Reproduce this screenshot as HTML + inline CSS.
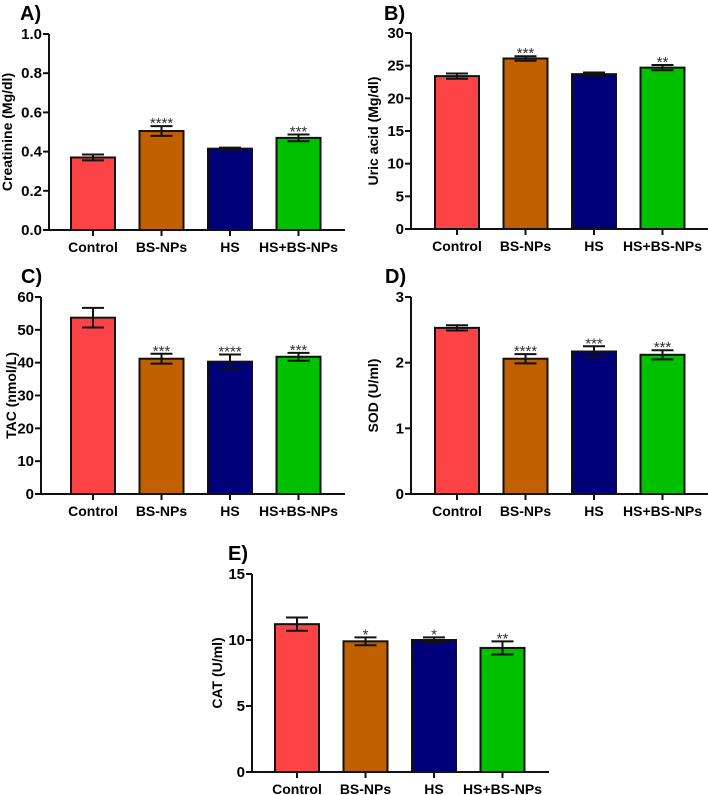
<!DOCTYPE html>
<html><head><meta charset="utf-8">
<style>
html,body{margin:0;padding:0;background:#fff;}
svg{display:block;font-family:"Liberation Sans",Arial,sans-serif;font-weight:bold;}
</style></head>
<body>
<svg id="fig" width="708" height="795" viewBox="0 0 708 795"></svg>
<script>
const categories = ["Control","BS-NPs","HS","HS+BS-NPs"];
const colors = ["#fc4446","#c06000","#00007a","#00c000"];
const creatinineValues = [0.37,0.505,0.415,0.47];
const creatinineErrors = [0.015,0.025,0.005,0.017];
const creatinineStars = ["","****","","***"];
const creatinineTicks = [0,0.2,0.4,0.6,0.8,1.0];
const uricValues = [23.4,26.1,23.7,24.7];
const uricErrors = [0.4,0.35,0.25,0.4];
const uricStars = ["","***","","**"];
const uricTicks = [0,5,10,15,20,25,30];
const tacValues = [53.7,41.2,40.3,41.8];
const tacErrors = [3.0,1.5,2.2,1.2];
const tacStars = ["","***","****","***"];
const tacTicks = [0,10,20,30,40,50,60];
const sodValues = [2.53,2.06,2.17,2.12];
const sodErrors = [0.04,0.07,0.08,0.07];
const sodStars = ["","****","***","***"];
const sodTicks = [0,1,2,3];
const catValues = [11.2,9.9,10.0,9.4];
const catErrors = [0.5,0.3,0.2,0.5];
const catStars = ["","*","*","**"];
const catTicks = [0,5,10,15];

const NS="http://www.w3.org/2000/svg";
const svg=document.getElementById('fig');
function mk(tag,attrs,parent,text){
  const e=document.createElementNS(NS,tag);
  for(const k in attrs)e.setAttribute(k,attrs[k]);
  if(text!==undefined)e.textContent=text;
  (parent||svg).appendChild(e);return e;
}
function panel(cfg){
  const g=mk('g',{});
  
  
  const ax=cfg.ax, top=cfg.top, bot=cfg.bot, bx=cfg.bx, xEnd=bx+274;
  const max=cfg.ticks[cfg.ticks.length-1];
  const y=v=>bot-(v/max)*(bot-top);
  const barX=i=>bx+i*68.5;
  const bw=44;
  const lab=mk('text',{x:cfg.lx,y:cfg.ly,'font-size':20},g,cfg.label);
  
  
  cfg.values.forEach((v,i)=>{
    const x=barX(i);
    const r=mk('rect',{x:x,y:y(v),width:bw,height:bot-y(v),fill:colors[i],stroke:'#111','stroke-width':2},g);
    
    
    const cx=x+bw/2,e=cfg.errors[i];
    const eb=mk('path',{d:`M${cx} ${y(v-e)}V${y(v+e)}M${cx-11} ${y(v+e)}H${cx+11}M${cx-11} ${y(v-e)}H${cx+11}`,stroke:'#111','stroke-width':2,fill:'none'},g);
    
    
    if(cfg.stars[i]){
      const s=mk('text',{x:cx,y:y(v+e)+2,'text-anchor':'middle','font-size':15,'font-weight':'normal',fill:'#333'},g,cfg.stars[i]);
      
      
    }
    const xl=mk('text',{x:cx,y:bot+22,'text-anchor':'middle','font-size':14},g,categories[i]);
    
    
    mk('line',{x1:cx,x2:cx,y1:bot,y2:bot+6,stroke:'#111','stroke-width':2},g);
  });
  const axes=mk('path',{d:`M${ax} ${top}V${bot}H${xEnd}`,stroke:'#111','stroke-width':2,fill:'none'},g);
  
  
  cfg.ticks.forEach(t=>{
    mk('line',{x1:ax-6,x2:ax,y1:y(t),y2:y(t),stroke:'#111','stroke-width':2},g);
    const tl=mk('text',{x:ax-7,y:y(t)+5,'text-anchor':'end','font-size':15},g,cfg.fmt?t.toFixed(1):String(t));
    
    
  });
  const yt=mk('text',{x:0,y:0,'text-anchor':'middle','font-size':14,transform:`translate(${cfg.tx},${(top+bot)/2}) rotate(-90)`},g,cfg.title);
  
  
}
panel({id:'creatinine',label:'A)',lx:20,ly:20,ax:49,bx:71,top:34,bot:230,ticks:creatinineTicks,fmt:true,values:creatinineValues,errors:creatinineErrors,stars:creatinineStars,title:'Creatinine (Mg/dl)',tx:12});
panel({id:'uric-acid',label:'B)',lx:384,ly:20,ax:411,bx:435,top:33,bot:229,ticks:uricTicks,values:uricValues,errors:uricErrors,stars:uricStars,title:'Uric acid (Mg/dl)',tx:378});
panel({id:'tac',label:'C)',lx:21,ly:283,ax:41,bx:71,top:297,bot:494,ticks:tacTicks,values:tacValues,errors:tacErrors,stars:tacStars,title:'TAC (nmol/L)',tx:16});
panel({id:'sod',label:'D)',lx:385,ly:283,ax:411,bx:435,top:297,bot:494,ticks:sodTicks,values:sodValues,errors:sodErrors,stars:sodStars,title:'SOD (U/ml)',tx:378});
panel({id:'cat',label:'E)',lx:228,ly:560,ax:252,bx:275,top:574,bot:772,ticks:catTicks,values:catValues,errors:catErrors,stars:catStars,title:'CAT (U/ml)',tx:222});
</script>
</body></html>
